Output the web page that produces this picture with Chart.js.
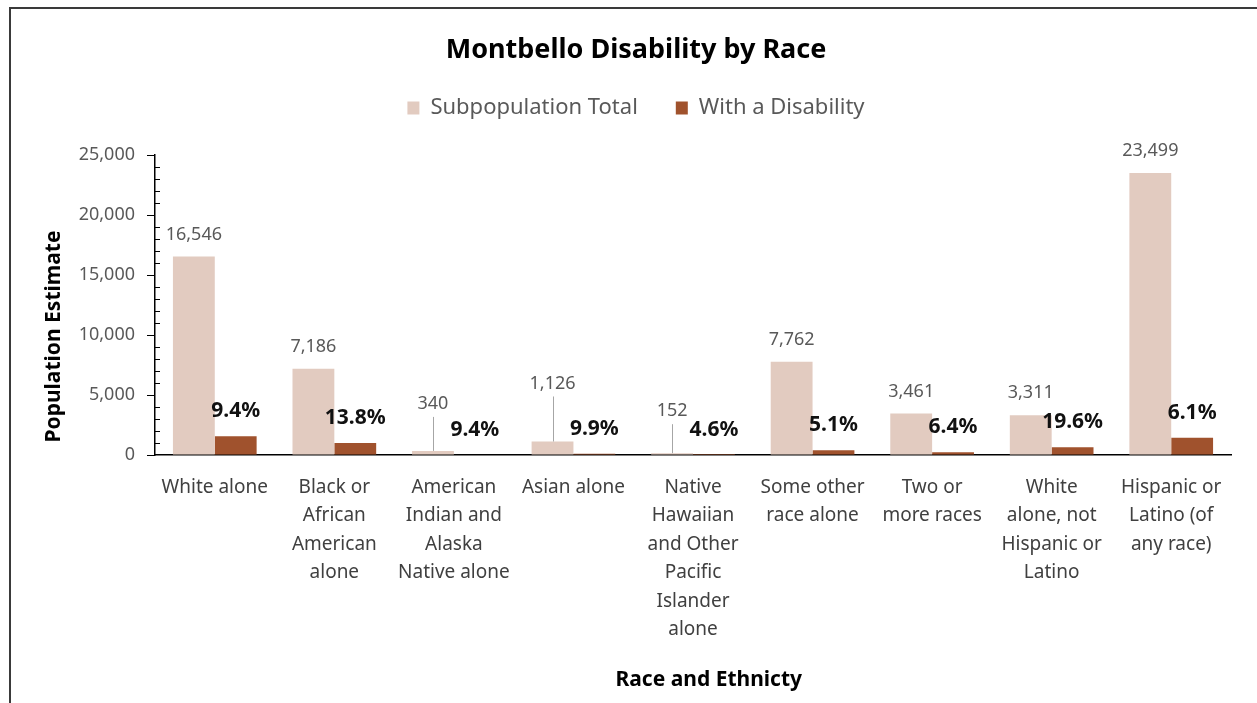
<!DOCTYPE html>
<html>
<head>
<meta charset="utf-8">
<title>Montbello Disability by Race</title>
<script src="https://cdn.jsdelivr.net/npm/chart.js@4.4.1/dist/chart.umd.min.js"></script>
<style>
  html, body { margin: 0; padding: 0; background: #fff; }
  #frame { position: absolute; left: 9px; top: 7px; width: 1400px; height: 900px; border: 2px solid #3a3a3a; }
  #wrap { position: absolute; left: 0; top: 0; width: 1257px; height: 703px; }
</style>
</head>
<body>
<div id="frame"></div>
<div id="wrap"><canvas id="chart"></canvas></div>
<script>
const categories = [
  ["White alone"],
  ["Black or", "African", "American", "alone"],
  ["American", "Indian and", "Alaska", "Native alone"],
  ["Asian alone"],
  ["Native", "Hawaiian", "and Other", "Pacific", "Islander", "alone"],
  ["Some other", "race alone"],
  ["Two or", "more races"],
  ["White", "alone, not", "Hispanic or", "Latino"],
  ["Hispanic or", "Latino (of", "any race)"]
];
const subpopulationTotal = [16546, 7186, 340, 1126, 152, 7762, 3461, 3311, 23499];
const withDisability = [1555, 992, 32, 111, 7, 396, 222, 649, 1433];
const disabilityPct = [9.4, 13.8, 9.4, 9.9, 4.6, 5.1, 6.4, 19.6, 6.1];
const yMax = 25000;
const yStep = 5000;
const yMinorStep = 1000;

const fontFamily = "'Noto Sans', 'Open Sans', sans-serif";

// small bars: Excel pulled the total label up and drew a leader line (px above bar top)
const leaderLift = {2: 47, 3: 58, 4: 42};

const barLabels = {
  id: 'barLabels',
  afterDatasetsDraw(chart) {
    const ctx = chart.ctx;
    ctx.save();
    ctx.textAlign = 'center';
    ctx.textBaseline = 'middle';

    chart.getDatasetMeta(0).data.forEach((bar, i) => {
      const lift = leaderLift[i] || 22;
      const y = bar.y - lift;
      if (leaderLift[i]) {
        const lx = Math.round(bar.x) + 0.5;
        ctx.strokeStyle = '#a6a6a6';
        ctx.lineWidth = 1;
        ctx.beginPath();
        ctx.moveTo(lx, y + 13);
        ctx.lineTo(lx, bar.y);
        ctx.stroke();
      }
      ctx.fillStyle = '#595959';
      ctx.font = `18px ${fontFamily}`;
      ctx.fillText(subpopulationTotal[i].toLocaleString('en-US'), bar.x, y);
    });

    chart.getDatasetMeta(1).data.forEach((bar, i) => {
      ctx.fillStyle = '#111';
      ctx.font = `bold 21px ${fontFamily}`;
      ctx.fillText(disabilityPct[i].toFixed(1) + '%', bar.x, bar.y - 25);
    });
    ctx.restore();
  }
};

const minorTicks = {
  id: 'minorTicks',
  afterDraw(chart) {
    const ys = chart.scales.y;
    const ctx = chart.ctx;
    ctx.save();
    ctx.strokeStyle = '#000';
    ctx.lineWidth = 1;
    for (let v = yMinorStep; v < yMax; v += yMinorStep) {
      if (v % yStep === 0) continue;
      const py = Math.round(ys.getPixelForValue(v)) + 0.5;
      ctx.beginPath();
      ctx.moveTo(ys.right, py);
      ctx.lineTo(ys.right + 5, py);
      ctx.stroke();
    }
    ctx.restore();
  }
};

new Chart(document.getElementById('chart'), {
  type: 'bar',
  data: {
    labels: categories,
    datasets: [
      {
        label: 'Subpopulation Total',
        data: subpopulationTotal,
        backgroundColor: '#e2cbc0',
        categoryPercentage: 0.7,
        barPercentage: 1
      },
      {
        label: 'With a Disability',
        data: withDisability,
        backgroundColor: '#a0522d',
        categoryPercentage: 0.7,
        barPercentage: 1
      }
    ]
  },
  options: {
    responsive: true,
    maintainAspectRatio: false,
    animation: false,
    layout: { padding: { left: 41, right: 26, top: 0, bottom: 0 } },
    plugins: {
      title: {
        display: true,
        text: 'Montbello Disability by Race',
        color: '#000',
        font: { family: fontFamily, size: 27, weight: 'bold', lineHeight: 1 },
        padding: { top: 37, bottom: -5 }
      },
      // empty spacer between the legend and the plot
      subtitle: {
        display: true,
        text: '',
        weight: 500,
        font: { size: 10, lineHeight: 1 },
        padding: { top: 16, bottom: 0 }
      },
      legend: {
        position: 'top',
        labels: {
          boxWidth: 12,
          boxHeight: 13,
          padding: 38,
          color: '#595959',
          font: { family: fontFamily, size: 22 }
        }
      },
      tooltip: { enabled: false }
    },
    scales: {
      x: {
        grid: { display: false, drawTicks: false },
        border: { color: '#000', width: 1.5 },
        ticks: {
          color: '#404040',
          padding: 18,
          maxRotation: 0,
          autoSkip: false,
          font: { family: fontFamily, size: 19, lineHeight: 1.5 }
        },
        title: {
          display: true,
          text: '\u2002\u2002\u2002Race and Ethnicty',
          color: '#000',
          font: { family: fontFamily, size: 21, weight: 'bold' },
          padding: { top: 0, bottom: 10 }
        },
        afterFit(scale) { scale.height = 248; }
      },
      y: {
        min: 0,
        max: yMax,
        ticks: {
          stepSize: yStep,
          color: '#595959',
          padding: 12,
          font: { family: fontFamily, size: 18 },
          callback: (v) => v.toLocaleString('en-US')
        },
        grid: { drawOnChartArea: false, tickLength: 8, color: '#000', tickColor: '#000' },
        border: { color: '#000', width: 1.5 },
        title: {
          display: true,
          text: 'Population Estimate\u2002\u2002\u2002\u2002\u2002\u2002',
          color: '#000',
          font: { family: fontFamily, size: 21, weight: 'bold' },
          padding: 0
        },
        afterFit(scale) { scale.width = 114; }
      }
    }
  },
  plugins: [barLabels, minorTicks]
});
</script>
</body>
</html>
